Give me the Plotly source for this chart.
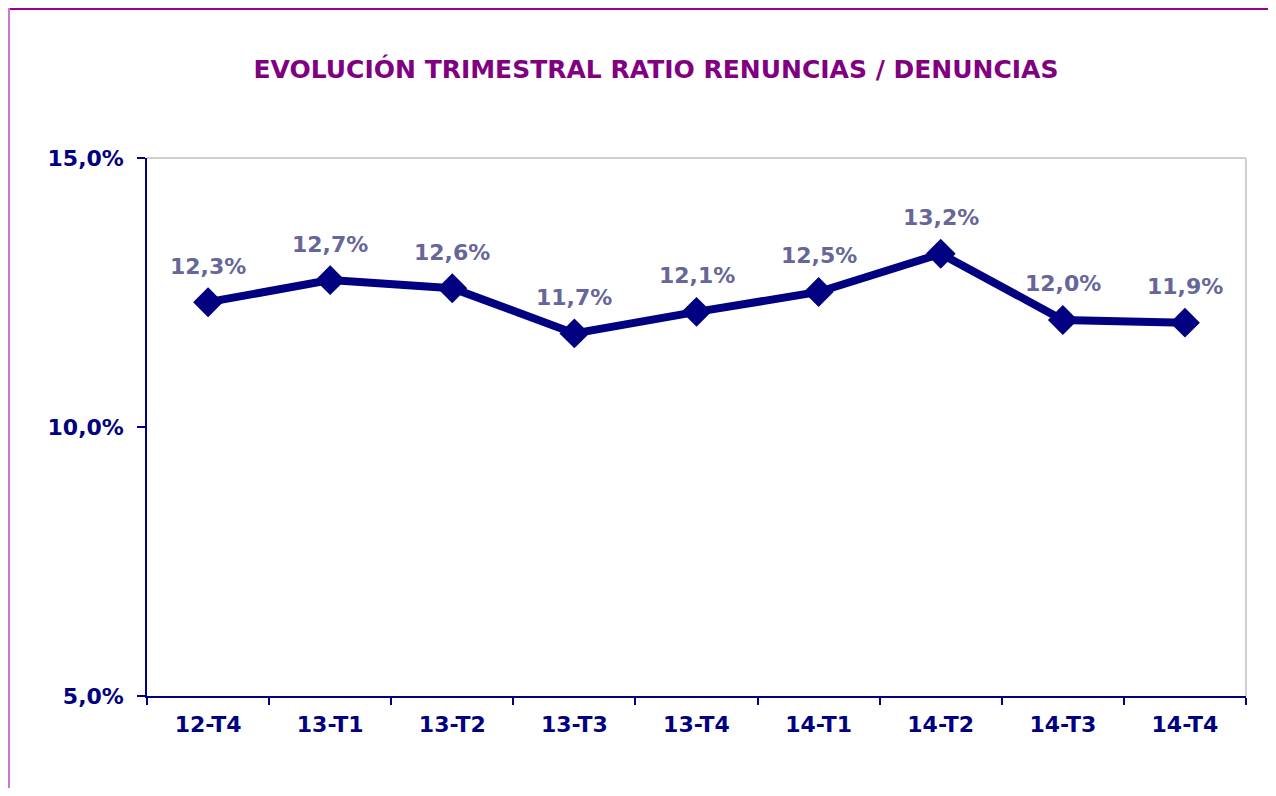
import plotly.graph_objects as go

categories = ["12-T4", "13-T1", "13-T2", "13-T3", "13-T4", "14-T1", "14-T2", "14-T3", "14-T4"]
ratio = [12.32, 12.73, 12.58, 11.74, 12.14, 12.51, 13.22, 11.99, 11.94]
y_ticks = [5, 10, 15]
y_tick_labels = ["5,0%", "10,0%", "15,0%"]
title_text = "EVOLUCIÓN TRIMESTRAL RATIO RENUNCIAS / DENUNCIAS"

NAVY = "#000080"
LABEL = "#666699"
PURPLE = "#800080"
FONT = "DejaVu Sans"

W, H = 1260, 780

fig = go.Figure()
fig.add_trace(go.Scatter(
    x=categories, y=ratio, mode="lines+markers",
    line=dict(color=NAVY, width=8),
    marker=dict(symbol="diamond", size=23, color=NAVY),
    hoverinfo="skip", showlegend=False,
))

for c, v in zip(categories, ratio):
    fig.add_annotation(
        x=c, y=v, text=f"<b>{v:.1f}%</b>".replace(".", ","),
        showarrow=False, yshift=36,
        font=dict(family=FONT, size=22, color=LABEL),
    )

# frame lines of plot area (top, right)
fig.add_shape(type="line", xref="paper", yref="paper", x0=0, x1=1, y0=1, y1=1,
              line=dict(color="#c0c0c0", width=1.5))
fig.add_shape(type="line", xref="paper", yref="paper", x0=1, x1=1, y0=0, y1=1,
              line=dict(color="#c0c0c0", width=1.5))

# outer purple border (top and left)
pw, ph = W - 139 - 22, H - 150 - 92
fig.add_shape(type="line", xref="paper", yref="paper",
              x0=(0 - 139) / pw, x1=(W - 139) / pw, y0=(ph + 150 - 1) / ph, y1=(ph + 150 - 1) / ph,
              line=dict(color="#990099", width=2))
fig.add_shape(type="line", xref="paper", yref="paper",
              x0=(1 - 139) / pw, x1=(1 - 139) / pw, y0=-92 / ph, y1=(ph + 150) / ph,
              line=dict(color="#cc77cc", width=2))

fig.update_layout(
    width=W, height=H,
    margin=dict(l=139, r=22, t=150, b=92),
    paper_bgcolor="white", plot_bgcolor="white",
    title=dict(text=f"<b>{title_text}</b>", x=648 / W, xanchor="center",
               xref="container", yref="container", y=1 - 61 / H, yanchor="middle",
               font=dict(family=FONT, size=25, color=PURPLE)),
    xaxis=dict(
        showgrid=False, showline=True, linecolor=NAVY, linewidth=1.5,
        ticks="outside", ticklen=7, tickcolor=NAVY, tickwidth=1.5,
        tickson="boundaries",
        tickvals=categories, ticktext=[f"<b>{c}</b>" for c in categories],
        tickfont=dict(family=FONT, size=22, color=NAVY), ticklabelstandoff=8,
        range=[-0.5, len(categories) - 0.5],
    ),
    yaxis=dict(
        range=[5, 15], tickvals=y_ticks, ticktext=[f"<b>{t}</b>" for t in y_tick_labels],
        showgrid=False, showline=True, linecolor=NAVY, linewidth=1.5, zeroline=False,
        ticks="outside", ticklen=8, tickcolor=NAVY, tickwidth=1.5,
        tickfont=dict(family=FONT, size=22, color=NAVY), ticklabelstandoff=9,
    ),
)

fig.write_html("out.html")
